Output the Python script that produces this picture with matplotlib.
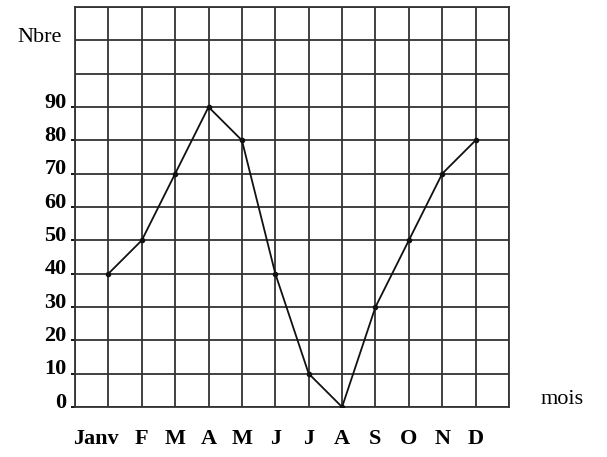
import numpy as np
import matplotlib
matplotlib.use('Agg')
import matplotlib.pyplot as plt
from matplotlib.transforms import ScaledTranslation

months = ['Janv', 'F', 'M', 'A', 'M', 'J', 'J', 'A', 'S', 'O', 'N', 'D']
counts = [40, 50, 70, 90, 80, 40, 10, 0, 30, 50, 70, 80]
y_ticks = [0, 10, 20, 30, 40, 50, 60, 70, 80, 90]

plt.rcParams['font.family'] = ['Liberation Serif', 'DejaVu Serif']

fig = plt.figure(figsize=(6.07, 4.57), dpi=100)
ax = fig.add_axes([75 / 607, 50 / 457, 434 / 607, 400 / 457])

x = np.arange(1, len(months) + 1)
ax.plot(x, counts, color='#111111', linewidth=1.3, marker='o', markersize=3, zorder=3)

ax.set_xlim(0, 13)
ax.set_ylim(0, 120)

# square grid, one cell = one month x 10
ax.set_xticks(np.arange(0, 14), minor=True)
ax.set_yticks(np.arange(0, 121, 10), minor=True)
ax.tick_params(which='minor', length=0)

ax.set_xticks(x)
ax.set_xticklabels(months, fontsize=16, fontweight='bold')
ax.set_yticks(y_ticks)
ax.set_yticklabels([str(v) for v in y_ticks], fontsize=16, fontweight='bold')
ax.grid(True, which='both', color='#333333', linewidth=1.3)
ax.tick_params(axis='x', length=0, pad=16)
ax.tick_params(axis='y', length=3, width=1.3, pad=3)

# labels sit a little above their grid lines, as in the printed chart
for lab in ax.get_yticklabels():
    lab.set_transform(lab.get_transform() + ScaledTranslation(0, 5 / 72, fig.dpi_scale_trans))
# "Janv" is printed a bit to the left of its column
janv = ax.get_xticklabels()[0]
janv.set_transform(janv.get_transform() + ScaledTranslation(-9 / 72, 0, fig.dpi_scale_trans))

for s in ax.spines.values():
    s.set_color('#333333')
    s.set_linewidth(1.3)

fig.text(40 / 607, 1 - 37 / 457, 'Nbre', fontsize=16, ha='center', va='center')
fig.text(562 / 607, 1 - 400 / 457, 'mois', fontsize=16, ha='center', va='center')

fig.savefig('out.png', dpi=100)
